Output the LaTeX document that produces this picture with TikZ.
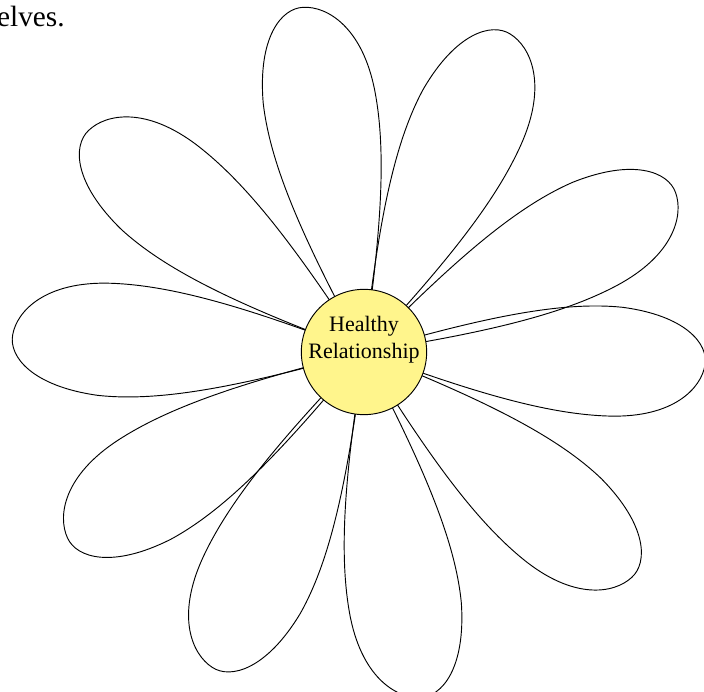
\documentclass[tikz,border=0pt]{standalone}
\usepackage{fontspec}
\setmainfont{Liberation Serif}
\usetikzlibrary{positioning}
\definecolor{discyellow}{RGB}{255,245,140}
\tikzset{
  petal/.style    = {draw=black,line width=0.7pt},
  disc/.style     = {circle,draw=black,line width=0.7pt,fill=discyellow,
                     minimum size=94pt,inner sep=0pt},
  disctext/.style = {align=center,inner sep=0pt,
                     font=\fontsize{16.5}{20}\selectfont},
  pagetext/.style = {inner sep=0pt,font=\fontsize{22}{26}\selectfont},
}

\begin{document}
\begin{tikzpicture}[x=0.75pt,y=0.75pt]
  \useasboundingbox (0,0) rectangle (704,692);
  \node[pagetext,anchor=base east] (tail) at (65,665) {elves.};
  \coordinate (hub) at (364,340);
  % petals: one teardrop turned round the hub
  \foreach \ang/\len in {100/1, 65.3/1, 27.1/1, -2.2/0.975, -40.1/1,
                         -80.8/1, -115.7/1, -147.9/1, 177.2/1.005, 141.2/1.01}
    \draw[petal,shift={(hub)},rotate=\ang,scale=\len]
      (0,0) .. controls (120,40) and (200,60) .. (263,56)
            .. controls (328,50) and (353,22) .. (350,0)
            .. controls (347,-24) and (320,-55) .. (255,-56)
            .. controls (190,-57) and (110,-36) .. (0,0);
  \node[disc] (core) at (hub) {};
  \node[disctext] (caption) at ([yshift=9pt]core.center) {Healthy\\Relationship};
\end{tikzpicture}
\end{document}
